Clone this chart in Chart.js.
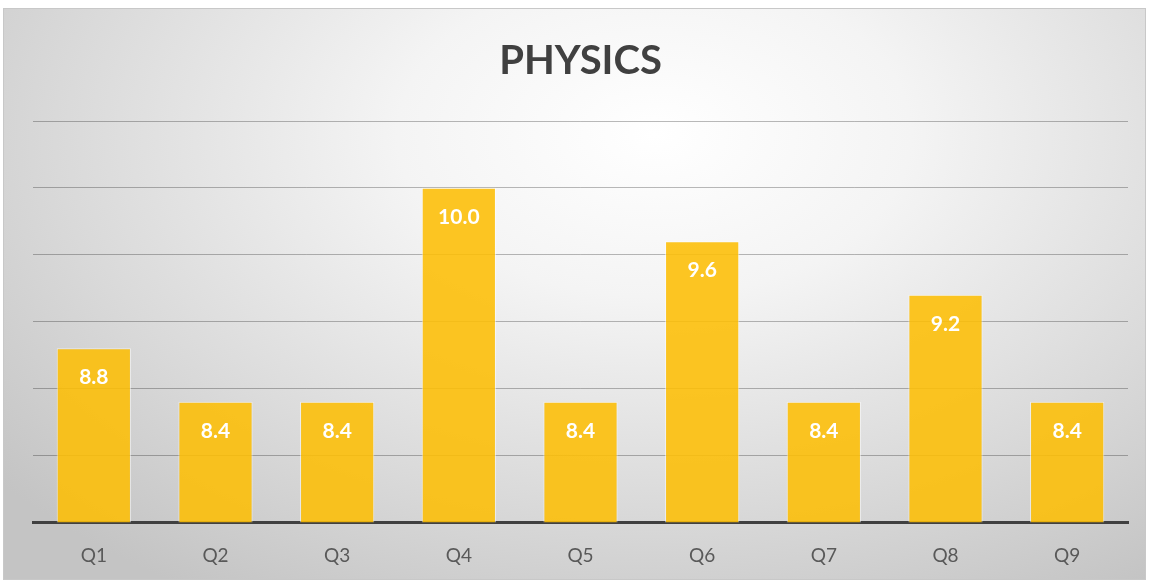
<!DOCTYPE html>
<html>
<head>
<meta charset="utf-8">
<script src="https://cdn.jsdelivr.net/npm/chart.js@4"></script>
<style>
  html, body { margin: 0; padding: 0; background: #fff; }
  #frame {
    position: absolute; left: 3px; top: 8px; width: 1143px; height: 572px;
    border: 1px solid #c8c8c8; box-sizing: border-box; overflow: hidden;
    background: radial-gradient(ellipse 75% 95% at 57% 22%, #ffffff 0%, #f4f4f4 30%, #d9d9d9 70%, #c4c4c4 100%);
  }
  canvas { display: block; }
</style>
</head>
<body>
<div id="frame"><canvas id="myChart" width="1141" height="580"></canvas></div>
<script>
const labels = ["Q1", "Q2", "Q3", "Q4", "Q5", "Q6", "Q7", "Q8", "Q9"];
const scores = [8.8, 8.4, 8.4, 10.0, 8.4, 9.6, 8.4, 9.2, 8.4];

const barLabels = {
    id: 'bar_labels',
    afterDatasetsDraw: (chart) => {
        const ctx = chart.ctx;
        ctx.save();
        ctx.fillStyle = '#ffffff';
        ctx.font = 'bold 21px Lato';
        ctx.textAlign = 'center';
        ctx.textBaseline = 'middle';
        chart.getDatasetMeta(0).data.forEach((bar, i) => {
            ctx.fillText(scores[i].toFixed(1), bar.x, bar.y + 29);
        });
        ctx.restore();
    }
};

const ctx = document.getElementById("myChart").getContext("2d");

const myChart = new Chart(ctx, {
    type: "bar",
    plugins: [barLabels],
    data: {
        labels: labels,
        datasets: [{
            label: 'Physics',
            data: scores,
            backgroundColor: 'rgba(253, 190, 5, 0.88)',
            borderColor: 'rgba(255, 255, 255, 0.55)',
            borderWidth: 1,
            categoryPercentage: 1,
            barPercentage: 0.61
        }]
    },
    options: {
        responsive: false,
        animation: false,
        layout: { padding: { left: 29, right: 17, top: 28, bottom: 0 } },
        plugins: {
            legend: { display: false },
            tooltip: { enabled: false },
            title: {
                display: true,
                text: 'PHYSICS',
                color: '#404040',
                font: { family: 'Lato', size: 40, weight: 'bold' },
                padding: { top: 0, bottom: 36 }
            }
        },
        scales: {
            x: {
                grid: { display: true, drawOnChartArea: false, drawTicks: false },
                border: { display: true, color: '#404040', width: 3 },
                ticks: {
                    color: '#595959',
                    font: { family: 'Lato', size: 19 },
                    padding: 22
                }
            },
            y: {
                min: 7.5,
                max: 10.5,
                ticks: { display: false, stepSize: 0.5 },
                grid: { color: 'rgba(0, 0, 0, 0.27)', drawTicks: false },
                border: { display: false }
            }
        }
    }
});
</script>
</body>
</html>
